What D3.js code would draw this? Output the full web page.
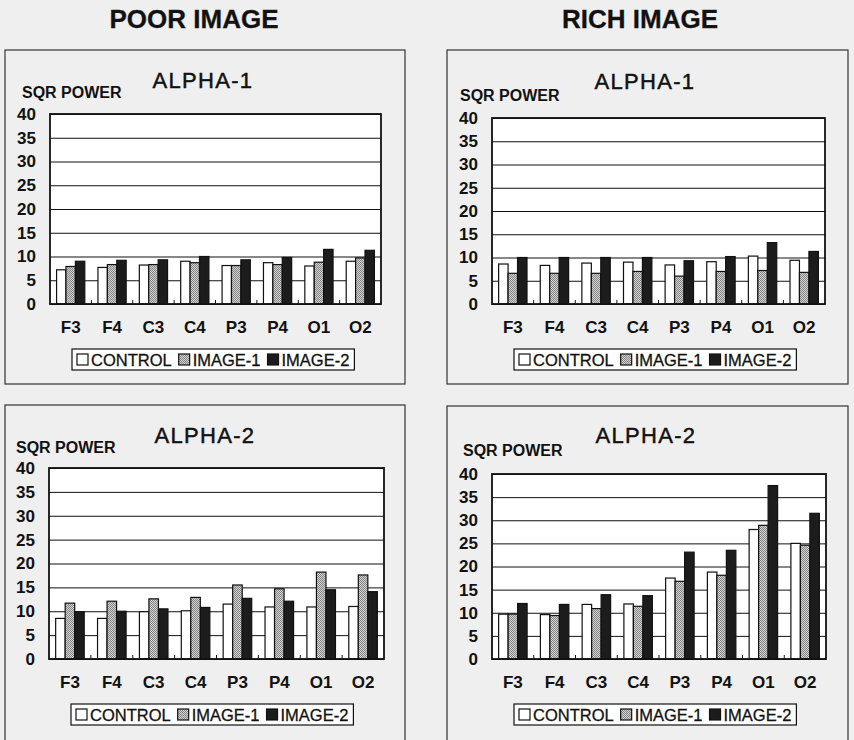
<!DOCTYPE html>
<html>
<head>
<meta charset="utf-8">
<script src="https://cdn.jsdelivr.net/npm/d3@7"></script>
<style>
    body { margin: 0; background: #efefef; }
    svg { display: block; }
    text { font-family: 'Liberation Sans', Arial, sans-serif; fill: #111; }
</style>
</head>
<body>
<div id="chart"></div>
<script>
// electrode sites and series
let channels = ['F3', 'F4', 'C3', 'C4', 'P3', 'P4', 'O1', 'O2'];
let seriesNames = ['CONTROL', 'IMAGE-1', 'IMAGE-2'];
let yTicks = [0, 5, 10, 15, 20, 25, 30, 35, 40];

// poor image, alpha-1
let poorAlpha1Control = [7.2, 7.7, 8.2, 9.0, 8.1, 8.7, 8.0, 9.0];
let poorAlpha1Image1 = [7.9, 8.3, 8.3, 8.7, 8.1, 8.3, 8.8, 9.7];
let poorAlpha1Image2 = [9.0, 9.2, 9.3, 10.0, 9.3, 9.8, 11.5, 11.3];

// rich image, alpha-1
let richAlpha1Control = [8.6, 8.3, 8.8, 9.0, 8.4, 9.1, 10.3, 9.4];
let richAlpha1Image1 = [6.6, 6.6, 6.6, 7.0, 6.0, 7.0, 7.2, 6.8];
let richAlpha1Image2 = [10.0, 10.0, 10.0, 10.0, 9.3, 10.2, 13.2, 11.3];

// poor image, alpha-2
let poorAlpha2Control = [8.5, 8.5, 9.9, 10.1, 11.5, 10.9, 10.9, 11.0];
let poorAlpha2Image1 = [11.7, 12.1, 12.6, 12.9, 15.5, 14.7, 18.2, 17.6];
let poorAlpha2Image2 = [9.9, 10.0, 10.5, 10.8, 12.7, 12.1, 14.5, 14.1];

// rich image, alpha-2
let richAlpha2Control = [9.7, 9.6, 11.8, 11.9, 17.5, 18.8, 28.0, 25.0];
let richAlpha2Image1 = [9.7, 9.4, 10.9, 11.4, 16.8, 18.1, 28.9, 24.6];
let richAlpha2Image2 = [12.0, 11.8, 13.9, 13.7, 23.1, 23.5, 37.5, 31.5];

let width = 854, height = 740;
let FONT = "'Liberation Sans', Arial, sans-serif";
let fills = ['#ffffff', 'url(#stipple)', '#1c1c1c'];

let svg = d3.select('#chart').append('svg')
    .attr('width', width)
    .attr('height', height);

// gray dotted fill for IMAGE-1
let pat = svg.append('defs').append('pattern')
    .attr('id', 'stipple')
    .attr('width', 2).attr('height', 2)
    .attr('patternUnits', 'userSpaceOnUse');
pat.append('rect').attr('width', 2).attr('height', 2).attr('fill', '#d2d2d2');
pat.append('rect').attr('width', 1).attr('height', 1).attr('fill', '#858585');
pat.append('rect').attr('x', 1).attr('y', 1).attr('width', 1).attr('height', 1).attr('fill', '#858585');

// column headings
svg.selectAll('text.heading')
    .data([{ t: 'POOR IMAGE', x: 194 }, { t: 'RICH IMAGE', x: 640 }])
    .enter().append('text')
        .attr('class', 'heading')
        .attr('x', function(d) { return d.x; })
        .attr('y', 28)
        .attr('text-anchor', 'middle')
        .style('font-size', '26px')
        .style('font-weight', 'bold')
        .attr('stroke', '#222')
        .attr('stroke-width', 0.3)
        .text(function(d) { return d.t; });

let panels = [
    { title: 'ALPHA-1', box: [5, 50, 400, 334], plot: [50, 114, 381, 304], titleX: 203, titleY: 88, labelX: 22, labelY: 98,
      series: [poorAlpha1Control, poorAlpha1Image1, poorAlpha1Image2] },
    { title: 'ALPHA-1', box: [447, 50, 401, 334], plot: [492, 118, 825, 304], titleX: 645, titleY: 89, labelX: 460, labelY: 101,
      series: [richAlpha1Control, richAlpha1Image1, richAlpha1Image2] },
    { title: 'ALPHA-2', box: [5, 405, 400, 360], plot: [49, 468, 384, 659], titleX: 205, titleY: 443, labelX: 16, labelY: 453,
      series: [poorAlpha2Control, poorAlpha2Image1, poorAlpha2Image2] },
    { title: 'ALPHA-2', box: [447, 406, 401, 360], plot: [492, 474, 826, 659], titleX: 646, titleY: 443, labelX: 463, labelY: 456,
      series: [richAlpha2Control, richAlpha2Image1, richAlpha2Image2] }
];

panels.forEach(drawPanel);

function drawPanel(p) {
    let g = svg.append('g');
    let left = p.plot[0], top = p.plot[1], right = p.plot[2], bottom = p.plot[3];

    g.append('rect')
        .attr('x', p.box[0]).attr('y', p.box[1])
        .attr('width', p.box[2]).attr('height', p.box[3])
        .attr('fill', 'none')
        .attr('stroke', '#333')
        .attr('stroke-width', 1.2);

    g.append('text')
        .attr('x', p.titleX).attr('y', p.titleY)
        .attr('text-anchor', 'middle')
        .style('font-size', '22px')
        .style('letter-spacing', '1.3px')
        .attr('stroke', '#111')
        .attr('stroke-width', 0.45)
        .text(p.title);

    g.append('text')
        .attr('x', p.labelX).attr('y', p.labelY)
        .style('font-size', '16px')
        .style('font-weight', 'bold')
        .text('SQR POWER');

    let x = d3.scaleBand().domain(channels).range([left, right]).padding(0);
    let inner = d3.scaleBand().domain(d3.range(seriesNames.length))
        .range([0, x.bandwidth()]).paddingOuter(0.7).paddingInner(0);
    let y = d3.scaleLinear().domain([0, 40]).range([bottom, top]);

    g.append('rect')
        .attr('x', left).attr('y', top)
        .attr('width', right - left).attr('height', bottom - top)
        .attr('fill', '#fff');

    // gridlines
    g.append('g')
        .attr('transform', 'translate(' + left + ',0)')
        .call(d3.axisLeft(y).tickValues(yTicks).tickSize(-(right - left)).tickFormat(''))
        .call(function(a) {
            a.select('.domain').remove();
            a.selectAll('line').attr('stroke', '#111').attr('stroke-width', 1);
        });

    // bars
    p.series.forEach(function(vals, si) {
        g.append('g').selectAll('rect')
            .data(vals)
            .enter().append('rect')
                .attr('x', function(d, i) { return x(channels[i]) + inner(si); })
                .attr('y', function(d) { return y(d); })
                .attr('width', inner.bandwidth())
                .attr('height', function(d) { return y(0) - y(d); })
                .attr('fill', fills[si])
                .attr('stroke', '#111')
                .attr('stroke-width', 1.2);
    });

    // small ticks at category boundaries
    g.append('g').selectAll('line')
        .data(channels.slice(1))
        .enter().append('line')
            .attr('x1', function(d) { return x(d); })
            .attr('x2', function(d) { return x(d); })
            .attr('y1', bottom)
            .attr('y2', bottom - 4)
            .attr('stroke', '#111');

    g.append('rect')
        .attr('x', left).attr('y', top)
        .attr('width', right - left).attr('height', bottom - top)
        .attr('fill', 'none')
        .attr('stroke', '#111')
        .attr('stroke-width', 1.8);

    // y axis labels
    g.append('g')
        .attr('transform', 'translate(' + left + ',0)')
        .call(d3.axisLeft(y).tickValues(yTicks).tickSize(0).tickPadding(14))
        .call(function(a) {
            a.select('.domain').remove();
            a.selectAll('text')
                .style('font-family', FONT)
                .style('font-size', '17px')
                .style('font-weight', 'bold')
                .attr('fill', '#111');
        });

    // x axis labels
    g.append('g')
        .attr('transform', 'translate(0,' + bottom + ')')
        .call(d3.axisBottom(x).tickSize(0).tickPadding(17))
        .call(function(a) {
            a.select('.domain').remove();
            a.selectAll('text')
                .style('font-family', FONT)
                .style('font-size', '17px')
                .style('font-weight', 'bold')
                .attr('fill', '#111');
        });

    // legend
    let lx = left + 22, ly = bottom + 45;
    let leg = g.append('g');
    let box = leg.append('rect')
        .attr('x', lx).attr('y', ly)
        .attr('width', 284).attr('height', 21)
        .attr('fill', '#fff')
        .attr('stroke', '#111')
        .attr('stroke-width', 1.2);
    let cx = lx + 5;
    seriesNames.forEach(function(name, si) {
        leg.append('rect')
            .attr('x', cx).attr('y', ly + 5)
            .attr('width', 11).attr('height', 11)
            .attr('fill', fills[si])
            .attr('stroke', '#111')
            .attr('stroke-width', 1.2);
        let t = leg.append('text')
            .attr('x', cx + 14).attr('y', ly + 16.5)
            .style('font-size', '16.5px')
            .attr('stroke', '#111')
            .attr('stroke-width', 0.3)
            .text(name);
        cx += 14 + t.node().getComputedTextLength() + 7;
    });
    box.attr('width', cx - lx - 2);
}
</script>
</body>
</html>
